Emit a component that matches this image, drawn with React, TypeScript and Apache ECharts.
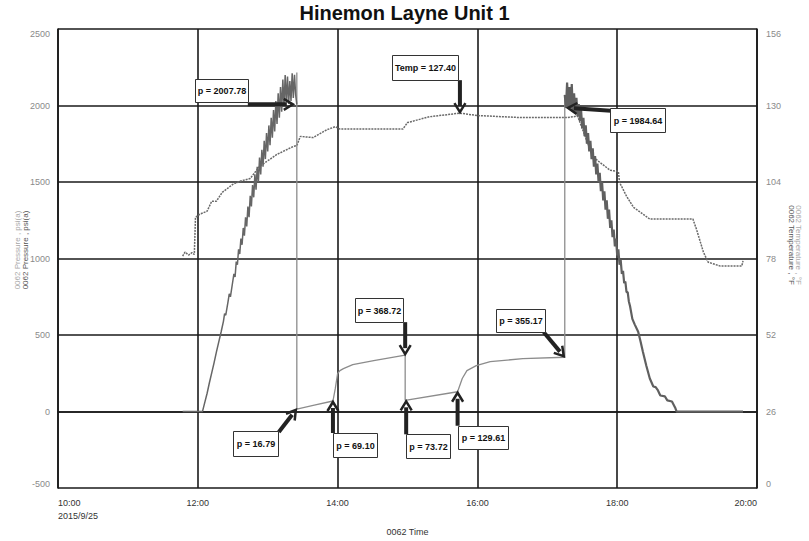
import React, { useEffect, useRef } from "react";
import * as echarts from "echarts";

const TITLE = "Hinemon Layne Unit 1";
const X_TICKS = [10, 12, 14, 16, 18, 20];
const X_LABELS = ["10:00", "12:00", "14:00", "16:00", "18:00", "20:00"];
const DATE_LABEL = "2015/9/25";
const X_NAME = "0062 Time";
const P_NAME = "0062 Pressure , psi(a)";
const T_NAME = "0062 Temperature , °F";
const P_TICKS = [-500, 0, 500, 1000, 1500, 2000, 2500];
const T_TICKS = [0, 26, 52, 78, 104, 130, 156];

// Pressure – jagged ramp up (thick trace)
const pressureRise: [string, number][] = [
  ["11:47", 0], ["12:04", 0], ["12:06", 60], ["12:08", 120], ["12:10", 190], ["12:12", 255],
  ["12:14", 320], ["12:16", 390], ["12:18", 455], ["12:20", 520], ["12:22", 590], ["12:23", 640],
  ["12:24", 630], ["12:26", 720], ["12:27", 770], ["12:28", 750], ["12:30", 850], ["12:31", 900],
  ["12:32", 880], ["12:33", 980], ["12:34", 960], ["12:35", 1060], ["12:36", 1030], ["12:37", 1130],
  ["12:38", 1090], ["12:39", 1200], ["12:40", 1150], ["12:41", 1270], ["12:42", 1210], ["12:43", 1340],
  ["12:44", 1270], ["12:45", 1410], ["12:46", 1340], ["12:47", 1480], ["12:48", 1400],
  ["12:49", 1550], ["12:50", 1450], ["12:51", 1600], ["12:52", 1500], ["12:53", 1660], ["12:54", 1550],
  ["12:55", 1710], ["12:56", 1600], ["12:57", 1770], ["12:58", 1650], ["12:59", 1820], ["13:00", 1700],
  ["13:01", 1870], ["13:02", 1740], ["13:03", 1920], ["13:04", 1790], ["13:05", 1970], ["13:06", 1830],
  ["13:07", 2030], ["13:08", 1880], ["13:09", 2080], ["13:10", 1920], ["13:11", 2120], ["13:12", 1960],
  ["13:13", 2170], ["13:14", 1990], ["13:15", 2200], ["13:16", 2020], ["13:17", 2190], ["13:18", 2010],
  ["13:19", 2160], ["13:20", 2030], ["13:21", 2210], ["13:22", 2050], ["13:23", 2200], ["13:24", 2070],
  ["13:25", 2007.78],
];

// Pressure – jagged ramp down (thick trace)
const pressureFall: [string, number][] = [
  ["17:15", 2070], ["17:16", 1984.64], ["17:17", 2150], ["17:18", 1990], ["17:19", 2120], ["17:20", 1980],
  ["17:21", 2140], ["17:22", 1960], ["17:23", 2080], ["17:24", 1950], ["17:25", 2050], ["17:26", 1930],
  ["17:27", 2010], ["17:28", 1900], ["17:29", 1970], ["17:30", 1850], ["17:31", 1920], ["17:32", 1800],
  ["17:33", 1870], ["17:34", 1750], ["17:35", 1820], ["17:36", 1700], ["17:37", 1770], ["17:38", 1650],
  ["17:39", 1720], ["17:40", 1600], ["17:41", 1670], ["17:42", 1550], ["17:43", 1620], ["17:44", 1500],
  ["17:45", 1560], ["17:46", 1440], ["17:47", 1500], ["17:48", 1380], ["17:49", 1440], ["17:50", 1320],
  ["17:51", 1380], ["17:52", 1260], ["17:53", 1320], ["17:54", 1200], ["17:55", 1250], ["17:56", 1140],
  ["17:57", 1190], ["17:58", 1080], ["17:59", 1130], ["18:00", 1020], ["18:01", 1060], ["18:02", 960],
  ["18:03", 990], ["18:04", 900], ["18:05", 920], ["18:06", 840], ["18:07", 850], ["18:08", 780],
  ["18:09", 780], ["18:10", 720], ["18:11", 690], ["18:13", 606], ["18:15", 570], ["18:18", 522],
  ["18:20", 460], ["18:22", 392], ["18:25", 300], ["18:28", 216], ["18:31", 164], ["18:33", 160],
  ["18:35", 138], ["18:37", 105], ["18:41", 99], ["18:43", 73], ["18:47", 66], ["18:50", 21],
  ["18:51", 0], ["19:48", 0],
];

// Pressure – build-up periods (thin trace)
const pressureBuild: [string, number][] = [
  ["13:25", 2215], ["13:25", 16.79], ["13:40", 42], ["13:56", 69.1], ["13:58", 150], ["14:00", 248],
  ["14:02", 268], ["14:05", 281], ["14:13", 307], ["14:31", 333], ["14:58", 368.72], ["14:58", 73.72],
  ["15:43", 129.61], ["15:47", 216], ["15:51", 268], ["15:59", 300], ["16:11", 326], ["16:39", 346],
  ["17:15", 355.17], ["17:15", 2070],
];

// Temperature (right axis)
const temperature: [string, number][] = [
  ["11:47", 78.8], ["11:49", 80.2], ["11:52", 79.2], ["11:55", 80.0], ["11:57", 79.4], ["11:58", 92.0],
  ["12:02", 93.1], ["12:08", 94.1], ["12:12", 97.5], ["12:16", 97.5], ["12:21", 100.5], ["12:30", 103.2],
  ["12:37", 104.4], ["12:45", 105.2], ["12:53", 109.3], ["13:08", 113.4], ["13:22", 116.1], ["13:25", 116.4],
  ["13:28", 119.5], ["13:39", 119.1], ["13:51", 121.8], ["13:58", 122.8], ["14:02", 122.0], ["14:56", 122.0],
  ["15:00", 124.2], ["15:19", 126.2], ["15:45", 127.4], ["16:00", 126.6], ["16:37", 125.9], ["17:17", 125.9],
  ["17:26", 126.4], ["17:39", 112.7], ["17:45", 110.7], ["17:54", 108.0], ["18:01", 107.6], ["18:02", 103.9],
  ["18:08", 99.2], ["18:14", 95.4], ["18:20", 93.7], ["18:28", 91.4], ["18:37", 91.4], ["19:05", 91.4],
  ["19:08", 88.0], ["19:14", 80.2], ["19:18", 76.8], ["19:28", 75.5], ["19:47", 75.5], ["19:48", 77.2],
];

const annotations = [
  { label: "p = 2007.78", time: "13:25", value: 2007.78, axis: 0 },
  { label: "Temp = 127.40", time: "15:45", value: 127.4, axis: 1 },
  { label: "p = 1984.64", time: "17:16", value: 1984.64, axis: 0 },
  { label: "p = 368.72", time: "14:58", value: 368.72, axis: 0 },
  { label: "p = 16.79", time: "13:25", value: 16.79, axis: 0 },
  { label: "p = 69.10", time: "13:56", value: 69.1, axis: 0 },
  { label: "p = 73.72", time: "14:58", value: 73.72, axis: 0 },
  { label: "p = 129.61", time: "15:43", value: 129.61, axis: 0 },
  { label: "p = 355.17", time: "17:15", value: 355.17, axis: 0 },
];

// callout layout, in pixels relative to the annotated point: box [dx, dy, w, h], arrow from / to
const annotationLayout = [
  { box: [-102, -25, 53, 23], from: [-49, 0], to: [-4, 0] },
  { box: [-68, -58, 66, 25], from: [0, -33], to: [0, -1] },
  { box: [44, 0, 55, 24], from: [45, 3], to: [2, 0] },
  { box: [-50, -57, 48, 24], from: [0, -33], to: [0, -1] },
  { box: [-64, 22, 45, 25], from: [-18, 23], to: [-1, 1] },
  { box: [0, 32, 44, 24], from: [0, 32], to: [0, 1] },
  { box: [1, 34, 44, 24], from: [1, 34], to: [1, 1] },
  { box: [0, 34, 50, 23], from: [0, 34], to: [0, 1] },
  { box: [-69, -48, 49, 23], from: [-21, -25], to: [-1, -1] },
];

const toHours = (s: string) => {
  const [h, m] = s.split(":").map(Number);
  return h + m / 60;
};
const pts = (arr: [string, number][]) => arr.map(([t, v]) => [toHours(t), v]);

const FONT = "'Liberation Sans', Arial, Helvetica, sans-serif";

export default function App() {
  const ref = useRef<HTMLDivElement>(null);
  useEffect(() => {
    const el = ref.current!;
    const chart = echarts.init(el, null, { renderer: "svg" });
    const gridColor = "#1a1a1a";
    const option: any = {
      animation: false,
      backgroundColor: "#ffffff",
      title: {
        text: TITLE,
        left: "center",
        top: -2,
        textStyle: { fontFamily: FONT, fontSize: 20, fontWeight: "bold", color: "#111" },
      },
      grid: { left: 58, right: 52, top: 29, bottom: 51, containLabel: false },
      xAxis: {
        type: "value",
        min: X_TICKS[0],
        max: X_TICKS[X_TICKS.length - 1],
        interval: X_TICKS[1] - X_TICKS[0],
        name: X_NAME,
        nameLocation: "middle",
        nameGap: 36,
        nameTextStyle: { fontFamily: FONT, fontSize: 9, color: "#333" },
        axisLine: { show: true, lineStyle: { color: gridColor, width: 1.6 } },
        axisTick: { show: false },
        splitLine: { show: true, lineStyle: { color: gridColor, width: 1.6 } },
        axisLabel: {
          formatter: (v: number) => {
            const i = X_TICKS.indexOf(Math.round(v));
            return i === 0 ? X_LABELS[0] + "\n" + DATE_LABEL : X_LABELS[i];
          },
          fontFamily: FONT,
          fontSize: 9,
          color: "#333",
          margin: 8,
          lineHeight: 13,
          alignMinLabel: "left",
          alignMaxLabel: "right",
        },
      },
      yAxis: [
        {
          type: "value",
          position: "left",
          min: P_TICKS[0],
          max: P_TICKS[P_TICKS.length - 1],
          interval: P_TICKS[1] - P_TICKS[0],
          axisLine: { show: true, lineStyle: { color: gridColor, width: 1.6 } },
          axisTick: { show: false },
          splitLine: { show: true, lineStyle: { color: gridColor, width: 1.6 } },
          axisLabel: {
            formatter: (v: number) => String(v),
            fontFamily: FONT, fontSize: 9, color: "#8a8a8a", margin: 8,
            verticalAlignMinLabel: "bottom", verticalAlignMaxLabel: "top",
          },
        },
        {
          type: "value",
          position: "right",
          min: T_TICKS[0],
          max: T_TICKS[T_TICKS.length - 1],
          interval: T_TICKS[1] - T_TICKS[0],
          axisLine: { show: true, lineStyle: { color: gridColor, width: 1.6 } },
          axisTick: { show: false },
          splitLine: { show: false },
          axisLabel: {
            formatter: (v: number) => String(v),
            fontFamily: FONT, fontSize: 9, color: "#8a8a8a", margin: 9,
            verticalAlignMinLabel: "bottom", verticalAlignMaxLabel: "top",
          },
        },
      ],
      series: [
        {
          name: "Temperature",
          type: "line",
          yAxisIndex: 1,
          data: pts(temperature),
          showSymbol: false,
          lineStyle: { color: "#6a6a6a", width: 1.5, type: [2, 1] },
          z: 3,
        },
        {
          name: "Pressure build",
          type: "line",
          data: pts(pressureBuild),
          showSymbol: false,
          lineStyle: { color: "#8c8c8c", width: 1.3 },
          z: 4,
        },
        {
          name: "Pressure rise",
          type: "line",
          data: pts(pressureRise),
          showSymbol: false,
          lineStyle: { color: "#666666", width: 1.5 },
          z: 5,
        },
        {
          name: "Pressure fall",
          type: "line",
          data: pts(pressureFall),
          showSymbol: false,
          lineStyle: { color: "#606060", width: 2.2 },
          z: 5,
        },
      ],
    };
    chart.setOption(option);

    const g: any[] = [
      { type: "text", x: 17, y: 250, rotation: Math.PI / 2,
        style: { text: P_NAME, fill: "#a8a8a8", font: `8px ${FONT}`, align: "center", verticalAlign: "middle" } },
      { type: "text", x: 25, y: 250, rotation: Math.PI / 2,
        style: { text: P_NAME, fill: "#555", font: `8px ${FONT}`, align: "center", verticalAlign: "middle" } },
      { type: "text", x: 791, y: 245, rotation: -Math.PI / 2,
        style: { text: T_NAME, fill: "#555", font: `8px ${FONT}`, align: "center", verticalAlign: "middle" } },
      { type: "text", x: 798, y: 245, rotation: -Math.PI / 2,
        style: { text: T_NAME, fill: "#a8a8a8", font: `8px ${FONT}`, align: "center", verticalAlign: "middle" } },
    ];
    const arrows: any[] = [];
    const boxes: any[] = [];
    annotations.forEach((a, i) => {
      const L = annotationLayout[i];
      const p = chart.convertToPixel({ xAxisIndex: 0, yAxisIndex: a.axis } as any, [toHours(a.time), a.value]) as number[];
      const [px, py] = p;
      const sx = px + L.from[0], sy = py + L.from[1];
      const tx = px + L.to[0], ty = py + L.to[1];
      const len = Math.hypot(tx - sx, ty - sy) || 1;
      const dx = (tx - sx) / len, dy = (ty - sy) / len;
      const nx = -dy, ny = dx;
      arrows.push({
        type: "line", z: 20,
        shape: { x1: sx, y1: sy, x2: tx - dx * 6, y2: ty - dy * 6 },
        style: { stroke: "#222", lineWidth: 4 },
      });
      arrows.push({
        type: "polyline", z: 20,
        shape: {
          points: [
            [tx - dx * 9 + nx * 5.5, ty - dy * 9 + ny * 5.5],
            [tx, ty],
            [tx - dx * 9 - nx * 5.5, ty - dy * 9 - ny * 5.5],
          ],
        },
        style: { stroke: "#222", lineWidth: 2.5, fill: null, lineJoin: "miter" },
      });
      const [bx, by, bw, bh] = L.box;
      boxes.push({
        type: "rect", z: 30,
        shape: { x: Math.round(px + bx) + 0.5, y: Math.round(py + by) + 0.5, width: bw, height: bh },
        style: { fill: "#fff", stroke: "#333", lineWidth: 1 },
      });
      boxes.push({
        type: "text", z: 31,
        x: Math.round(px + bx) + 0.5 + bw / 2,
        y: Math.round(py + by) + 0.5 + bh / 2,
        style: { text: a.label, fill: "#111", font: `bold 9px ${FONT}`, align: "center", verticalAlign: "middle" },
      });
    });
    chart.setOption({ graphic: [...g, ...arrows, ...boxes] });

    return () => chart.dispose();
  }, []);
  return (
    <div
      ref={ref}
      style={{ position: "fixed", left: 0, top: 0, width: 809, height: 541, background: "#fff" }}
    />
  );
}
